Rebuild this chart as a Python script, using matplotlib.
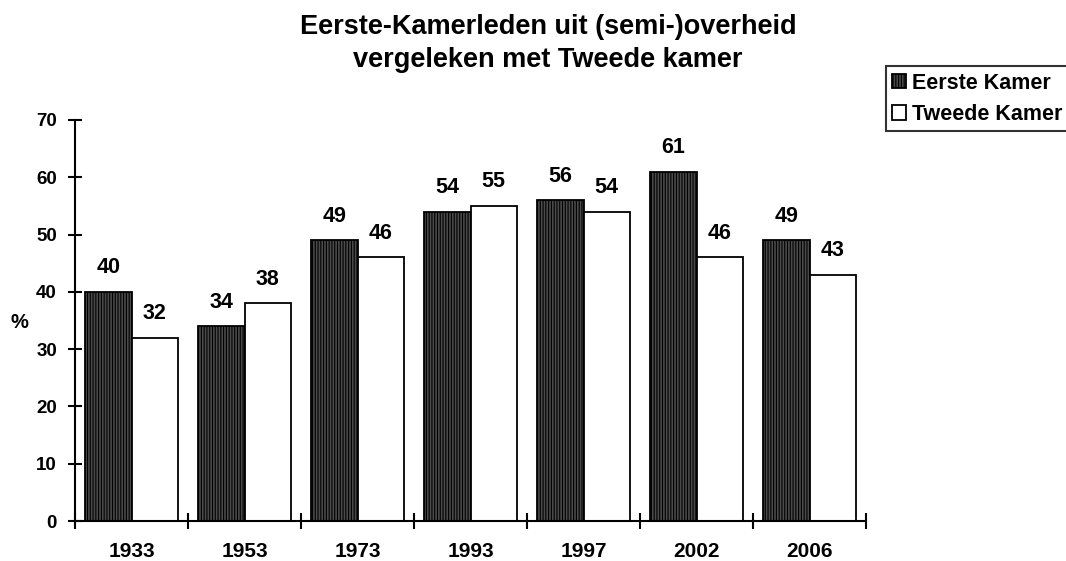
import numpy as np
import matplotlib.pyplot as plt

plt.rcParams['font.family'] = ['Liberation Sans', 'DejaVu Sans']
plt.rcParams['font.weight'] = 'bold'
plt.rcParams['hatch.linewidth'] = 0.8

years = ['1933', '1953', '1973', '1993', '1997', '2002', '2006']
eerste = [40, 34, 49, 54, 56, 61, 49]
tweede = [32, 38, 46, 55, 54, 46, 43]

fig = plt.figure(figsize=(10.66, 5.61), dpi=100)
ax = fig.add_axes([0.0704, 0.0713, 0.742, 0.7148])

x = np.arange(len(years)) + 0.5
w = 0.41
b1 = ax.bar(x - w / 2, eerste, w, facecolor='#4a4a4a', edgecolor='black',
            hatch='||||||', linewidth=1.3, label='Eerste Kamer')
b2 = ax.bar(x + w / 2, tweede, w, facecolor='white', edgecolor='black',
            linewidth=1.3, label='Tweede Kamer')

for bars, vals in [(b1, eerste), (b2, tweede)]:
    for r, v in zip(bars, vals):
        ax.text(r.get_x() + r.get_width() / 2, v + 4.2, str(v), ha='center',
                va='center', fontsize=15.5, fontweight='bold')

ax.set_xlim(0, len(years))
ax.set_ylim(0, 70)
ax.set_yticks(range(0, 71, 10))
ax.set_xticks(x)
ax.set_xticklabels(years)
ax.set_xticks(np.arange(len(years) + 1), minor=True)
ax.tick_params(axis='x', which='major', length=0, pad=15, labelsize=15)
ax.tick_params(axis='x', which='minor', direction='inout', length=11, width=1.5)
ax.tick_params(axis='y', direction='inout', length=10, width=1.5, labelsize=13.5, pad=8)
for lab in ax.get_xticklabels() + ax.get_yticklabels():
    lab.set_fontweight('bold')

for s in ['top', 'right']:
    ax.spines[s].set_visible(False)
for s in ['left', 'bottom']:
    ax.spines[s].set_linewidth(1.5)

ax.set_ylabel('%', rotation=0, fontsize=14.5, fontweight='bold', va='center', ha='center')
ax.yaxis.set_label_coords(-0.0708, 0.496)

fig.text(0.514, 0.923, 'Eerste-Kamerleden uit (semi-)overheid\nvergeleken met Tweede kamer',
         ha='center', va='center', fontsize=19.5, fontweight='bold', linespacing=1.36)

leg = fig.legend(handles=[b1, b2], loc='upper left', bbox_to_anchor=(0.831, 0.882),
                 fontsize=15.5, frameon=True, fancybox=False, edgecolor='black',
                 handlelength=0.65, handleheight=0.65, handletextpad=0.25,
                 borderpad=0.3, labelspacing=0.48, borderaxespad=0)
leg.get_frame().set_linewidth(1.5)
for t in leg.get_texts():
    t.set_fontweight('bold')

fig.savefig('out.png', dpi=100)
